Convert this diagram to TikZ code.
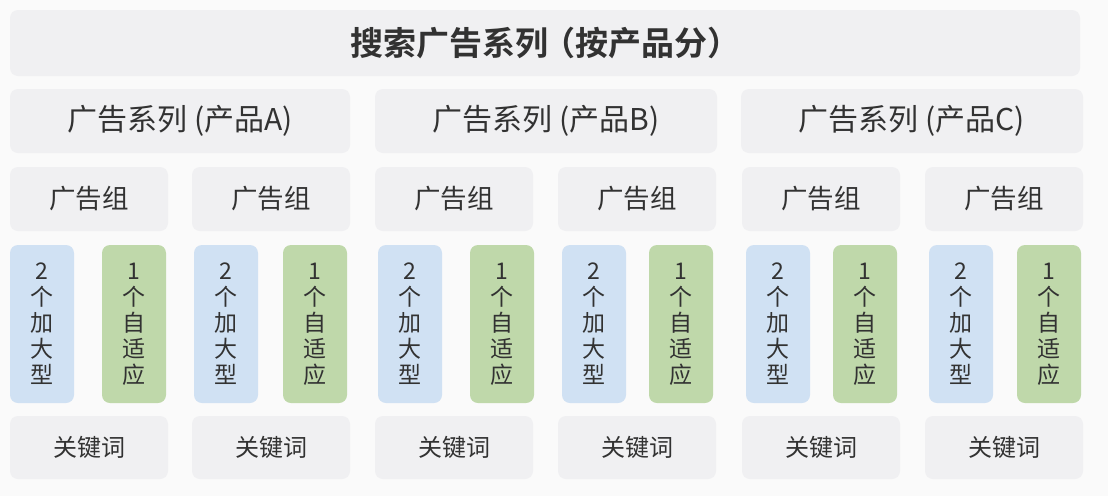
\documentclass[tikz,border=0pt]{standalone}
\usepackage{fontspec}
\newfontfamily\cjk{Noto Sans CJK SC}
\newfontfamily\cjkbold{Noto Sans CJK SC Bold}
\definecolor{bgc}{RGB}{250,250,250}
\definecolor{boxc}{RGB}{240,240,242}
\definecolor{bluec}{RGB}{208,225,243}
\definecolor{greenc}{RGB}{191,216,170}
\definecolor{txtc}{RGB}{50,50,50}
\tikzset{
  gbox/.style={fill=boxc, draw=none, rounded corners=8pt, inner sep=0pt, text=txtc},
  vbox/.style={draw=none, rounded corners=8pt, inner sep=0pt, text=txtc, minimum width=64pt, minimum height=158pt, align=center, font=\cjk\fontsize{23}{26}\selectfont},
  bluebox/.style={vbox, fill=bluec},
  greenbox/.style={vbox, fill=greenc},
  agbox/.style={gbox, minimum width=158pt, minimum height=64pt, font=\cjk\fontsize{26.5}{30}\selectfont},
  kwbox/.style={gbox, minimum width=158pt, minimum height=63pt, font=\cjk\fontsize{24}{28}\selectfont},
  cpbox/.style={gbox, minimum height=64pt, font=\cjk\fontsize{30}{34}\selectfont},
}
\begin{document}
\begin{tikzpicture}[x=1pt,y=-1pt]
\fill[bgc] (0,0) rectangle (1108,496);
\useasboundingbox (0,0) rectangle (1108,496);
\node[gbox, minimum width=1070pt, minimum height=66pt, font=\cjkbold\fontsize{33}{36}\selectfont] (title) at (545,43) {搜索广告系列\hspace{-6pt}（按产品分）\hspace{-8pt}};
\node[cpbox, minimum width=340pt] (cpA) at (180,121) {广告系列 (产品A)};
\node[cpbox, minimum width=342pt] (cpB) at (546,121) {广告系列 (产品B)};
\node[cpbox, minimum width=342pt] (cpC) at (912,121) {广告系列 (产品C)};
\foreach \x [count=\i] in {10,192,375,558,742,925}{
  \node[agbox] (ag\i) at (\x+79,199) {广告组};
  \node[kwbox] (kw\i) at (\x+79,447.5) {关键词};
}
\foreach \x [count=\i] in {10,194,378,562,746,929}{
  \node[bluebox] (bl\i) at (\x+32,324) {2\\个\\加\\大\\型};
}
\foreach \x [count=\i] in {102,283,470,649,833,1017}{
  \node[greenbox] (gr\i) at (\x+32,324) {1\\个\\自\\适\\应};
}
\end{tikzpicture}
\end{document}
